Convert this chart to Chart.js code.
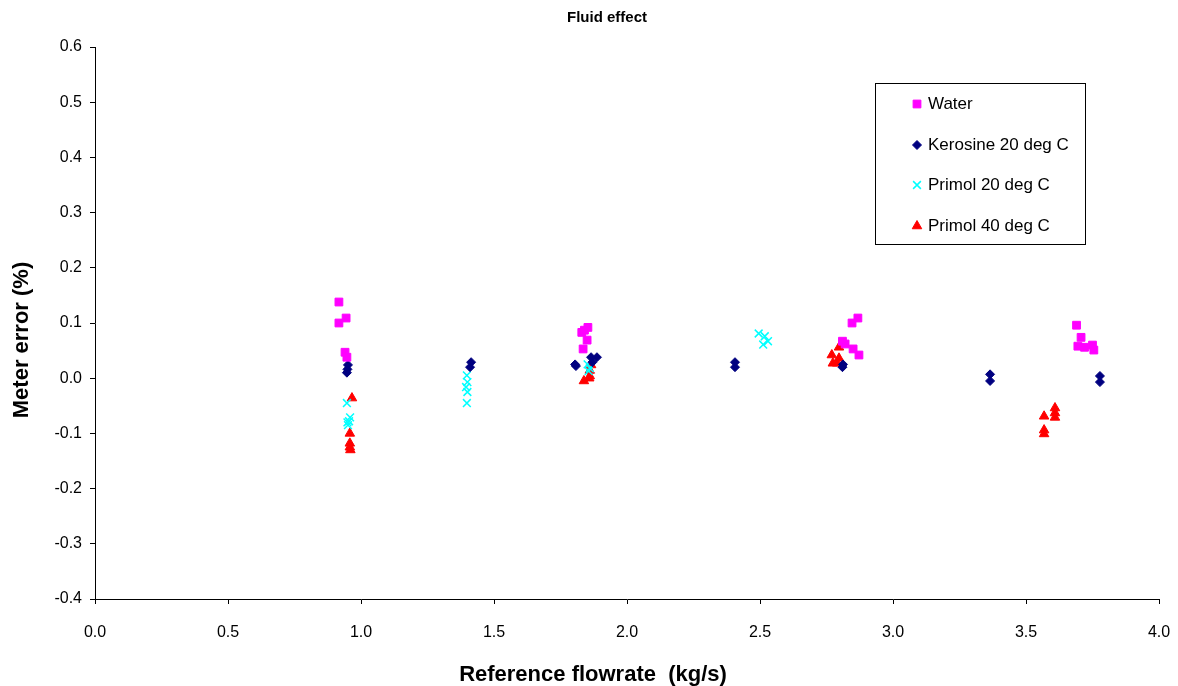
<!DOCTYPE html>
<html>
<head>
<meta charset="utf-8">
<script src="https://cdn.jsdelivr.net/npm/chart.js@4/dist/chart.umd.min.js"></script>
<style>
html,body{margin:0;padding:0;background:#fff;overflow:hidden;}
#wrap{width:1178px;height:686px;}
canvas{display:block;}
</style>
</head>
<body>
<div id="wrap"><canvas id="c" width="1178" height="686"></canvas></div>
<script>
// ---- data ----
const seriesNames = ["Water", "Kerosine 20 deg C", "Primol 20 deg C", "Primol 40 deg C"];

const waterX = [0.917, 0.917, 0.944, 0.940, 0.947, 1.830, 1.853, 1.850, 1.835, 1.840, 2.810, 2.820, 2.846, 2.868, 2.850, 2.872, 3.690, 3.707, 3.695, 3.720, 3.750, 3.755];
const waterY = [0.138, 0.100, 0.109, 0.047, 0.038, 0.083, 0.092, 0.069, 0.053, 0.087, 0.067, 0.062, 0.100, 0.109, 0.053, 0.042, 0.096, 0.074, 0.058, 0.056, 0.060, 0.051];

const keroX = [0.951, 0.947, 0.949, 1.414, 1.410, 1.805, 1.808, 1.865, 1.887, 1.870, 2.406, 2.406, 2.810, 2.812, 3.365, 3.365, 3.778, 3.778];
const keroY = [0.024, 0.010, 0.016, 0.029, 0.020, 0.025, 0.022, 0.038, 0.038, 0.029, 0.029, 0.020, 0.020, 0.025, 0.007, -0.005, 0.004, -0.007];

const p20X = [0.947, 0.959, 0.951, 0.955, 0.949, 1.398, 1.400, 1.395, 1.400, 1.398, 1.852, 1.856, 1.860, 2.495, 2.518, 2.530, 2.512];
const p20Y = [-0.045, -0.071, -0.085, -0.078, -0.080, 0.005, -0.007, -0.016, -0.025, -0.045, 0.025, 0.013, 0.018, 0.081, 0.076, 0.067, 0.061];

const p40X = [0.966, 0.958, 0.958, 0.958, 0.960, 1.838, 1.860, 1.860, 1.865, 1.858, 2.770, 2.774, 2.797, 2.797, 2.790, 3.568, 3.568, 3.568, 3.609, 3.609, 3.609];
const p40Y = [-0.036, -0.100, -0.118, -0.125, -0.130, -0.005, 0.014, 0.004, 0.024, 0.000, 0.042, 0.027, 0.056, 0.036, 0.027, -0.069, -0.094, -0.101, -0.054, -0.063, -0.071];

const chartTitle = "Fluid effect";
const xTitle = "Reference flowrate  (kg/s)";
const yTitle = "Meter error (%)";

function pts(xs, ys) { return xs.map((x, i) => ({x: x, y: ys[i]})); }

const FONT = "'Liberation Sans', Arial, sans-serif";

const datasets = [
  {label: seriesNames[0], data: pts(waterX, waterY), pointStyle: 'rect', pointRadius: 5.5, backgroundColor: '#FF00FF', borderColor: '#FF00FF', borderWidth: 1},
  {label: seriesNames[1], data: pts(keroX, keroY), pointStyle: 'rectRot', pointRadius: 4.5, backgroundColor: '#000080', borderColor: '#000080', borderWidth: 1},
  {label: seriesNames[2], data: pts(p20X, p20Y), pointStyle: 'crossRot', pointRadius: 5.5, backgroundColor: '#00FFFF', borderColor: '#00FFFF', borderWidth: 1.5},
  {label: seriesNames[3], data: pts(p40X, p40Y), pointStyle: 'triangle', pointRadius: 5.5, backgroundColor: '#FF0000', borderColor: '#FF0000', borderWidth: 1}
];

function drawMarker(ctx, style, r, x, y, bw) {
  if (window.Chart && Chart.helpers && Chart.helpers.drawPoint) {
    Chart.helpers.drawPoint(ctx, {pointStyle: style, radius: r, rotation: 0, borderWidth: bw}, x, y);
  }
}

const textPlugin = {
  id: 'textPlugin',
  afterDraw(chart) {
    const ctx = chart.ctx;
    ctx.save();
    ctx.fillStyle = '#000';
    ctx.textAlign = 'center';
    ctx.textBaseline = 'middle';
    ctx.font = "bold 15px " + FONT;
    ctx.fillText(chartTitle, 607, 18);
    ctx.font = "bold 22px " + FONT;
    ctx.fillText(xTitle, 593, 675);
    ctx.translate(22, 340);
    ctx.rotate(-Math.PI / 2);
    ctx.fillText(yTitle, 0, 0);
    ctx.restore();

    // legend
    ctx.save();
    ctx.strokeStyle = '#000';
    ctx.lineWidth = 1;
    ctx.strokeRect(875.5, 83.5, 210, 161);
    const rows = [104, 145, 185, 226];
    chart.data.datasets.forEach((ds, i) => {
      ctx.fillStyle = ds.backgroundColor;
      ctx.strokeStyle = ds.borderColor;
      ctx.lineWidth = ds.borderWidth;
      drawMarker(ctx, ds.pointStyle, ds.pointRadius, 917, rows[i], ds.borderWidth);
      ctx.fillStyle = '#000';
      ctx.font = "17px " + FONT;
      ctx.textAlign = 'left';
      ctx.textBaseline = 'middle';
      ctx.fillText(ds.label, 928, rows[i]);
    });
    ctx.restore();
  }
};

new Chart(document.getElementById('c'), {
  type: 'scatter',
  data: {datasets: datasets},
  options: {
    responsive: false,
    animation: false,
    layout: {padding: {left: 0, top: 47, right: 19, bottom: 0}},
    plugins: {legend: {display: false}, title: {display: false}, tooltip: {enabled: false}},
    scales: {
      x: {
        type: 'linear', min: 0, max: 4,
        afterFit(s) { s.height = 87; s.paddingLeft = 12; s.paddingRight = 12; },
        ticks: {stepSize: 0.5, padding: 19, color: '#000', font: {size: 16, family: FONT}, callback: v => Number(v).toFixed(1)},
        grid: {display: true, drawOnChartArea: false, drawTicks: true, tickLength: 5, color: '#000'},
        border: {display: true, color: '#000', width: 1}
      },
      y: {
        type: 'linear', min: -0.4, max: 0.6,
        afterFit(s) { s.width = 95; },
        ticks: {stepSize: 0.1, padding: 8, color: '#000', font: {size: 16, family: FONT}, callback: v => Number(v).toFixed(1)},
        grid: {display: true, drawOnChartArea: false, drawTicks: true, tickLength: 5, color: '#000'},
        border: {display: true, color: '#000', width: 1}
      }
    }
  },
  plugins: [textPlugin]
});
</script>
</body>
</html>
